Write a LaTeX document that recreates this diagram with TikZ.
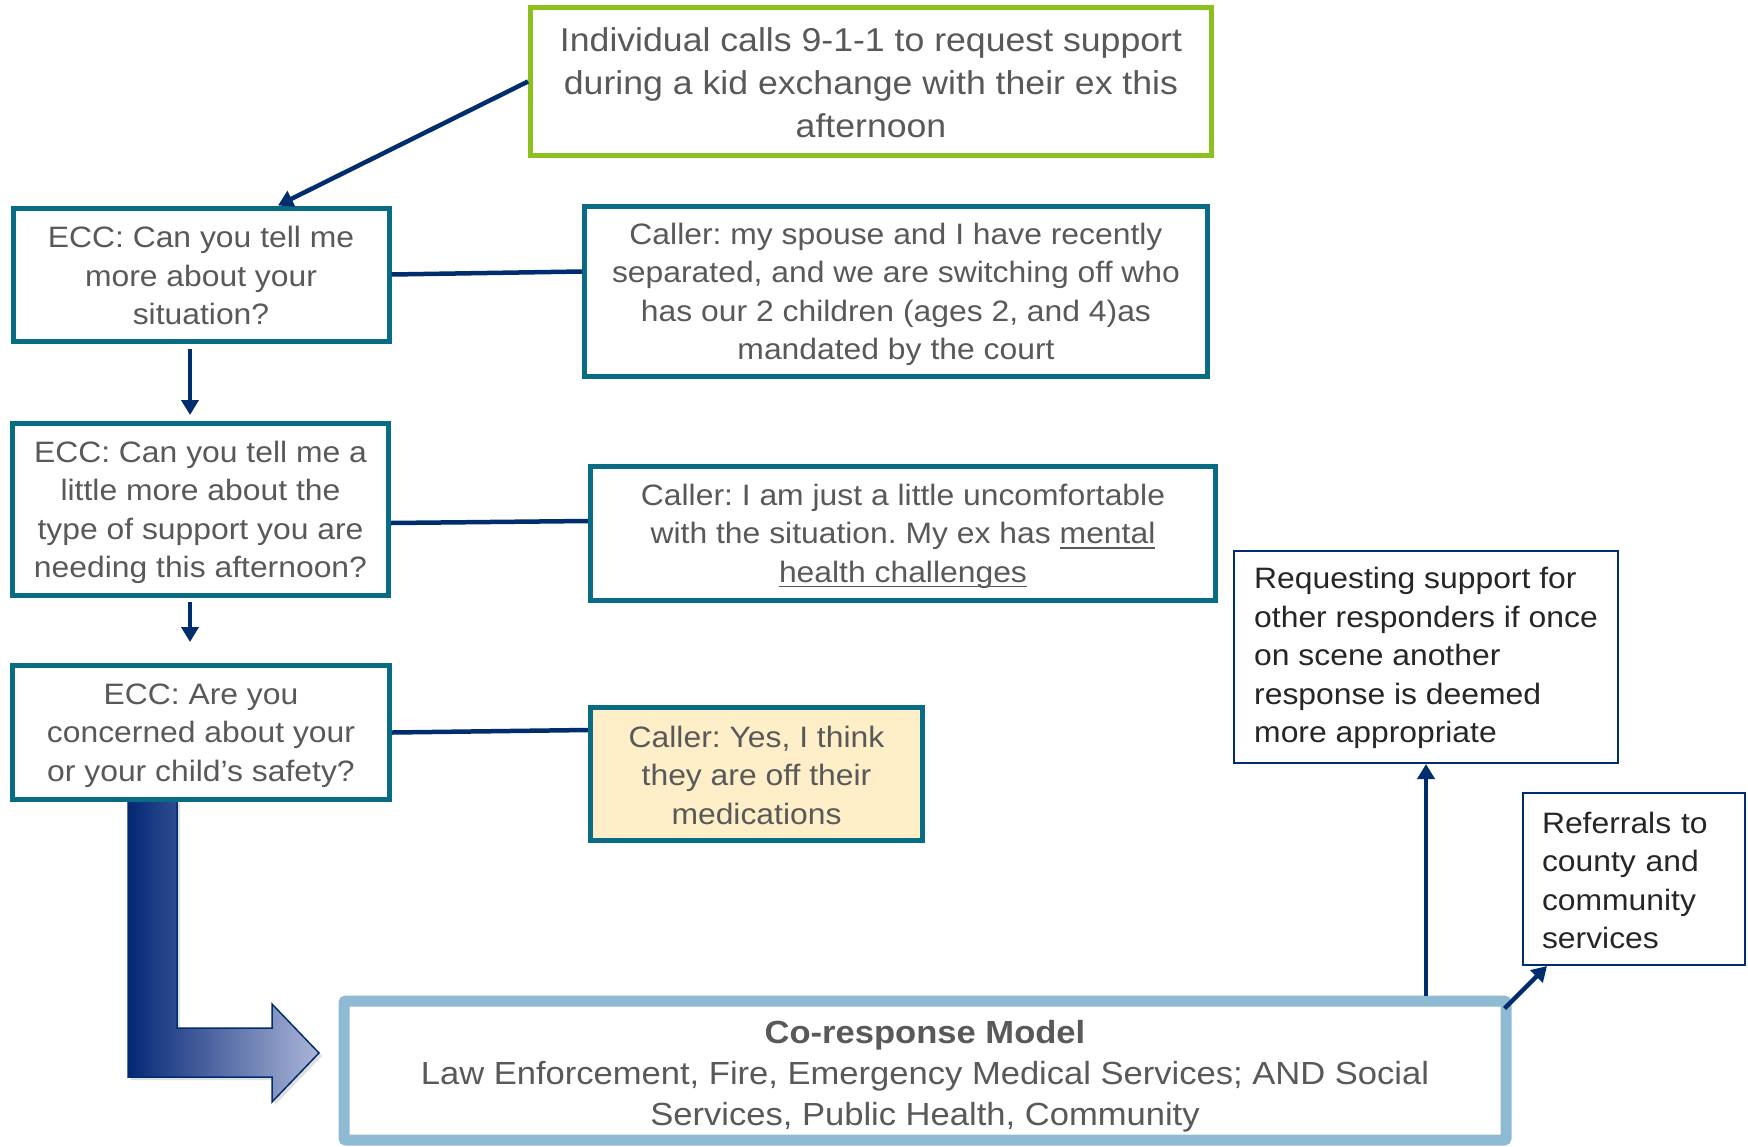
\documentclass[tikz,border=0pt]{standalone}
\usepackage{fontspec}
\setmainfont{Liberation Sans}[FakeStretch=1.08]
\usetikzlibrary{arrows.meta,shadows,calc}
\definecolor{eccteal}{RGB}{8,108,132}
\definecolor{topgreen}{RGB}{140,192,30}
\definecolor{corblue}{RGB}{142,187,211}
\definecolor{navyline}{RGB}{0,45,110}
\definecolor{txtgray}{RGB}{89,89,89}
\definecolor{txtdark}{RGB}{38,38,38}
\definecolor{cream}{RGB}{254,239,201}
\definecolor{arrdark}{RGB}{4,40,118}
\definecolor{arrlight}{RGB}{172,181,216}
\newsavebox\myulbox
\newcommand\myul[1]{\sbox\myulbox{#1}\rlap{\rule[-5pt]{\wd\myulbox}{1.7pt}}\usebox\myulbox}
\newcommand\tpad[1]{\rule{0pt}{#1}}
\frenchspacing
\begin{document}
\frenchspacing
\begin{tikzpicture}[x=1pt,y=-1pt,
  box/.style={draw=eccteal, line width=5pt, fill=white, align=center, text=txtgray,
    font=\fontsize{29.5}{38.5}\selectfont\frenchspacing, inner sep=0pt},
  sidebox/.style={draw=navyline, line width=2pt, fill=white, align=left, text=txtdark,
    font=\fontsize{29.5}{38.5}\selectfont\frenchspacing, inner sep=0pt},
  conn/.style={draw=navyline, line width=4.5pt},
  arr/.style={conn, -{Triangle[width=17pt,length=15pt]}}
]
\useasboundingbox (0,0) rectangle (1748,1146);

% bent gradient arrow
\path[left color=arrdark, right color=arrlight, draw=navyline, line width=1.5pt,
  drop shadow={opacity=0.25, shadow xshift=3pt, shadow yshift=-3pt}]
  (128,800) -- (177,800) -- (177,1028) -- (272,1028) -- (272,1004) -- (319,1053)
  -- (272,1102) -- (272,1077) -- (128,1077) -- cycle;

\node[box, draw=topgreen, font=\fontsize{33}{43}\selectfont\frenchspacing,
  minimum width=681pt, minimum height=148pt] (top) at (871,81.5)
  {\tpad{27pt}Individual calls 9-1-1 to request support\\during a kid exchange with their ex this\\afternoon};

\node[box, minimum width=376pt, minimum height=133pt] (ecc1) at (201,274.5)
  {\tpad{24pt}ECC: Can you tell me\\more about your\\situation?};
\node[box, minimum width=376pt, minimum height=172pt] (ecc2) at (200.5,509.5)
  {\tpad{27pt}ECC: Can you tell me a\\little more about the\\type of support you are\\needing this afternoon?};
\node[box, minimum width=377pt, minimum height=134pt] (ecc3) at (201,732.5)
  {\tpad{27pt}ECC: Are you\\concerned about your\\or your child’s safety?};

\node[box, minimum width=623pt, minimum height=170pt] (caller1) at (896,291.5)
  {\tpad{27pt}Caller: my spouse and I have recently\\separated, and we are switching off who\\has our 2 children (ages 2, and 4)as\\mandated by the court};
\node[box, minimum width=625pt, minimum height=134pt] (caller2) at (903,533.5)
  {\tpad{27pt}Caller: I am just a little uncomfortable\\with the situation. My ex has \myul{mental}\\\myul{health challenges}};
\node[box, fill=cream, minimum width=332pt, minimum height=133pt] (caller3) at (756.5,774)
  {\tpad{24pt}Caller: Yes, I think\\they are off their\\medications};

\node[box, draw=corblue, line width=11pt, rounded corners=2pt,
  font=\fontsize{32}{41}\selectfont\frenchspacing, minimum width=1162pt, minimum height=139pt]
  (coresp) at (925,1070.5)
  {\tpad{35pt}{\bfseries Co-response Model}\\Law Enforcement, Fire, Emergency Medical Services; AND Social\\Services, Public Health, Community};

\node[sidebox, minimum width=384pt, minimum height=212pt] (req) at (1426,657)
  {\tpad{24pt}Requesting support for\\other responders if once\\on scene another\\response is deemed\\more appropriate};
\node[sidebox, inner xsep=19pt, text width=184pt, minimum height=172pt] (ref) at (1634,879)
  {\tpad{24pt}Referrals to\\county and\\community\\services};

% connectors
\draw[arr] (top.west) -- ([xshift=77pt]ecc1.north);
\draw[conn] (ecc1.east) -- ([yshift=20pt]caller1.west);
\draw[conn] ([yshift=-13.5pt]ecc2.east) -- ([yshift=12.5pt]caller2.west);
\draw[conn] (ecc3.east) -- ([yshift=44pt]caller3.west);
\draw[arr, shorten <=5pt, shorten >=6pt] ([xshift=-11pt]ecc1.south) -- ([xshift=-11pt]ecc1.south |- ecc2.north);
\draw[arr, shorten <=4pt, shorten >=21pt] ([xshift=-10.5pt]ecc2.south) -- ([xshift=-10.5pt]ecc2.south |- ecc3.north);
\draw[arr] (req.south |- coresp.north) -- (req.south);
\draw[arr] ([xshift=-7pt,yshift=-13pt]coresp.north east) -- ([xshift=25pt]ref.south west);
\end{tikzpicture}
\end{document}
